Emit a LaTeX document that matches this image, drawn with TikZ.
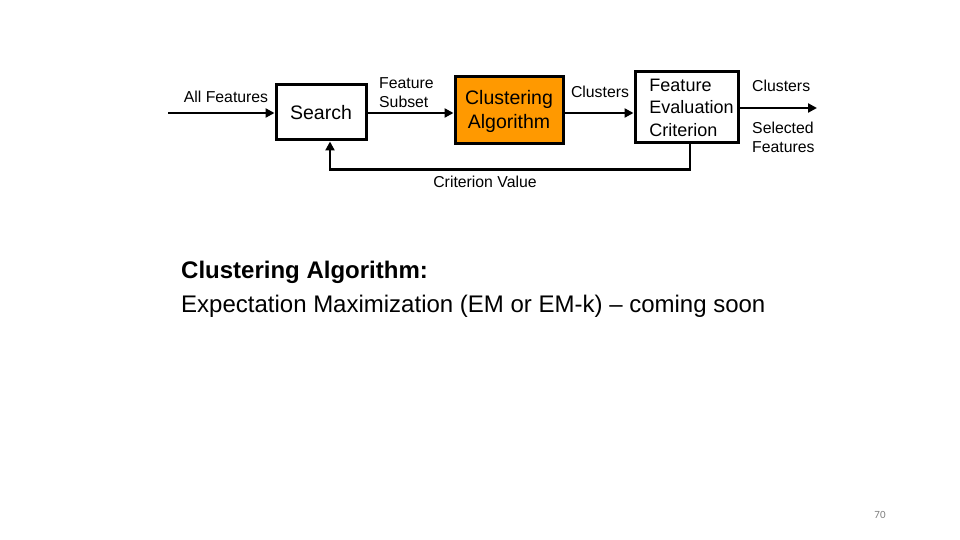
\documentclass[tikz,border=0pt]{standalone}
\usepackage{fontspec}
\setmainfont{Liberation Sans}
\newfontfamily\pagefont{Carlito}
\usetikzlibrary{arrows.meta}
\definecolor{boxorange}{HTML}{FF9900}
\begin{document}
\begin{tikzpicture}[x=1pt, y=-1pt,
  block/.style={draw, line width=3pt, fill=white, inner sep=2pt},
  lbl/.style={font=\fontsize{15.8}{19}\selectfont, inner sep=0pt},
  flow/.style={-{Triangle[length=9pt, width=9pt]}, line width=2.8pt}]

  \useasboundingbox (0,0) rectangle (960,540);

  % Blocks
  \node[block, minimum width=90pt, minimum height=55pt, font=\fontsize{19.5}{22}\selectfont] (search) at (321, 112.5) {Search};
  \node[block, fill=boxorange, minimum width=108pt, minimum height=67pt, align=center, font=\fontsize{19.5}{24}\selectfont] (clust) at (509, 110.5) {\strut Clustering\\Algorithm};
  \node[block, minimum width=103pt, minimum height=71pt, align=left, font=\fontsize{18}{22.5}\selectfont] (fec) at (686.5, 107.5)
    {\hspace*{10pt}Feature\\\hspace*{10pt}Evaluation\\\hspace*{10pt}Criterion};

  % Connectors
  \coordinate (in) at (168, 113);
  \coordinate (out) at (817, 108);
  \draw[flow] (in) -- (in -| search.west);
  \draw[flow] (search.east |- in) -- (clust.west |- in);
  \draw[flow] (clust.east |- in) -- (fec.west |- in);
  \draw[flow] (fec.east |- out) -- (out);
  \draw[flow] ([xshift=3.5pt]fec.south) -- ++(0, 25) -| ([xshift=9pt]search.south);

  % Labels
  \node[lbl] (lall) at (226, 97) {All Features};
  \node[lbl, align=left, anchor=west] (lsub) at (379, 93) {Feature\\Subset};
  \node[lbl] (lclu) at (600, 91.5) {Clusters};
  \node[lbl, anchor=west] (lout) at (752, 86) {Clusters};
  \node[lbl, align=left, anchor=west] (lsel) at (752, 137) {Selected\\Features};
  \node[lbl] (lcrit) at (485, 181.5) {Criterion Value};

  % Text
  \node[anchor=base west, inner sep=0pt, font=\fontsize{24}{28}\selectfont\bfseries] (head) at (181, 278) {Clustering Algorithm:};
  \node[anchor=base west, inner sep=0pt, font=\fontsize{24}{28}\selectfont] (body) at (181, 312) {Expectation Maximization (EM or EM-k) – coming soon};
  \node[text=gray, font=\pagefont\fontsize{11}{13}\selectfont] (page) at (880, 515) {70};

\end{tikzpicture}
\end{document}
